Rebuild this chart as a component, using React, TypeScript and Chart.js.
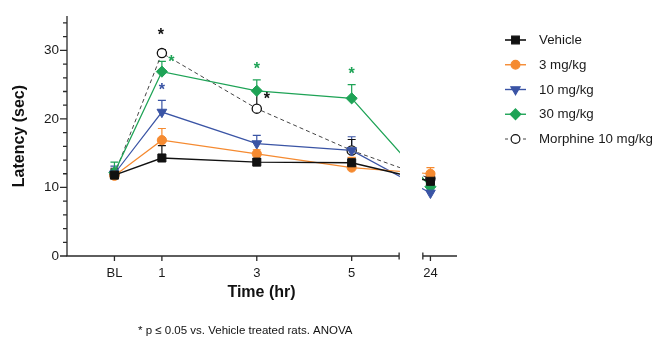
import React, { useEffect, useRef } from 'react';
import { Chart, registerables } from 'chart.js';

Chart.register(...registerables);

const FONT = '"Liberation Sans", Arial, Helvetica, sans-serif';

// ---- categories / tick labels ----
const timeLabels = ['BL', '1', '3', '5', '24'];
const timeHours = [0, 1, 3, 5, 24];
const yTickValues = [0, 2, 4, 6, 8, 10, 12, 14, 16, 18, 20, 22, 24, 26, 28, 30, 32, 34];
const yMajorLabels = [0, 10, 20, 30];

// ---- series ----
const seriesNames = ['Vehicle', '3 mg/kg', '10 mg/kg', '30 mg/kg', 'Morphine 10 mg/kg'];

const vehicleMean = [11.8, 14.3, 13.7, 13.6, 10.9];
const vehicleSem = [0.8, 1.8, 0.5, 0.7, 0.6];
const mg3Mean = [11.7, 16.9, 14.9, 12.9, 12.0];
const mg3Sem = [0.6, 1.7, 0.6, 1.5, 0.9];
const mg10Mean = [12.0, 21.0, 16.4, 15.4, 9.2];
const mg10Sem = [1.1, 1.7, 1.2, 2.0, 0.4];
const mg30Mean = [12.2, 26.9, 24.1, 23.0, 10.1];
const mg30Sem = [1.5, 1.5, 1.6, 2.0, 0.5];
const morphineMean = [11.9, 29.6, 21.5, 15.4, 11.3];
const morphineSem = [0.9, 0.5, 2.5, 1.6, 0.6];

// significance (* p <= 0.05): series index, time index
const sigSeries = [4, 3, 2, 3, 4, 3];
const sigTimes = [1, 1, 1, 2, 2, 3];

const footnote = '* p \u2264 0.05 vs. Vehicle treated rats. ANOVA';

// ---- axis break mapping (hours -> axis units) ----
const SEG1_MIN = -1;
const SEG1_MAX = 6;
const BREAK_GAP = 0.5;
const SEG2_START = 23;
const SEG2_END = 27.5;
const SEG2_SCALE = 0.16;
const axisPos = (h: number) =>
  h <= SEG1_MAX ? h : SEG1_MAX + BREAK_GAP + (h - SEG2_START) * SEG2_SCALE;

// ---- styles ----
const allMeans = [vehicleMean, mg3Mean, mg10Mean, mg30Mean, morphineMean];
const allSems = [vehicleSem, mg3Sem, mg10Sem, mg30Sem, morphineSem];
const styles = [
  { line: '#111111', marker: 'rect', radius: 5.7, rotation: 0, fill: '#111111', border: '#111111', dash: [] as number[], width: 1.4, err: '#111111' },
  { line: '#F58A30', marker: 'circle', radius: 4.6, rotation: 0, fill: '#F58A30', border: '#F58A30', dash: [] as number[], width: 1.2, err: '#F58A30' },
  { line: '#3A54A5', marker: 'triangle', radius: 5.6, rotation: 180, fill: '#3A54A5', border: '#3A54A5', dash: [] as number[], width: 1.2, err: '#3A54A5' },
  { line: '#1EA356', marker: 'rectRot', radius: 5.6, rotation: 0, fill: '#1EA356', border: '#1EA356', dash: [] as number[], width: 1.2, err: '#1EA356' },
  { line: '#444444', marker: 'circle', radius: 4.6, rotation: 0, fill: '#ffffff', border: '#111111', dash: [4, 3], width: 1.0, err: '#111111' },
];
const STAR_OFFSETS = [[-1, -16], [9.5, -8], [0, -20], [0, -20], [10, -8], [0, -22]];
const STAR_COLORS = ['#111111', '#1EA356', '#3A54A5', '#1EA356', '#111111', '#1EA356'];

function drawMarker(ctx: CanvasRenderingContext2D, kind: string, x: number, y: number, r: number, rot: number, fill: string, border: string) {
  ctx.save();
  ctx.fillStyle = fill;
  ctx.strokeStyle = border;
  ctx.lineWidth = 1.2;
  ctx.beginPath();
  if (kind === 'rect') {
    const s = Math.SQRT1_2 * r;
    ctx.rect(x - s, y - s, 2 * s, 2 * s);
  } else if (kind === 'circle') {
    ctx.arc(x, y, r, 0, Math.PI * 2);
  } else if (kind === 'triangle') {
    let a = (rot * Math.PI) / 180;
    ctx.moveTo(x + Math.sin(a) * r, y - Math.cos(a) * r);
    a += (2 * Math.PI) / 3;
    ctx.lineTo(x + Math.sin(a) * r, y - Math.cos(a) * r);
    a += (2 * Math.PI) / 3;
    ctx.lineTo(x + Math.sin(a) * r, y - Math.cos(a) * r);
    ctx.closePath();
  } else if (kind === 'rectRot') {
    ctx.moveTo(x, y - r);
    ctx.lineTo(x + r, y);
    ctx.lineTo(x, y + r);
    ctx.lineTo(x - r, y);
    ctx.closePath();
  }
  ctx.fill();
  ctx.stroke();
  ctx.restore();
}

const customPlugin = {
  id: 'customDecor',
  beforeDatasetsDraw(chart: any) {
    const ctx: CanvasRenderingContext2D = chart.ctx;
    const xs = chart.scales.x;
    const ys = chart.scales.y;
    ctx.save();
    ctx.lineWidth = 1.2;
    allMeans.forEach((means, si) => {
      ctx.strokeStyle = styles[si].err;
      means.forEach((m, i) => {
        const px = xs.getPixelForValue(axisPos(timeHours[i]));
        const y0 = ys.getPixelForValue(m);
        const y1 = ys.getPixelForValue(m + allSems[si][i]);
        ctx.beginPath();
        ctx.moveTo(px, y0);
        ctx.lineTo(px, y1);
        ctx.moveTo(px - 4, y1);
        ctx.lineTo(px + 4, y1);
        ctx.stroke();
      });
    });
    ctx.restore();
  },
  afterDatasetsDraw(chart: any) {
    const ctx: CanvasRenderingContext2D = chart.ctx;
    const xs = chart.scales.x;
    const a = chart.chartArea;
    const x0 = xs.getPixelForValue(SEG1_MAX) + 0.8;
    const x1 = xs.getPixelForValue(SEG1_MAX + BREAK_GAP) - 0.8;
    ctx.save();
    ctx.fillStyle = '#ffffff';
    ctx.fillRect(x0, a.top - 5, x1 - x0, a.bottom - a.top + 4);
    ctx.restore();
  },
  afterDraw(chart: any) {
    const ctx: CanvasRenderingContext2D = chart.ctx;
    const xs = chart.scales.x;
    const ys = chart.scales.y;
    const a = chart.chartArea;
    const axisY = ys.getPixelForValue(0);
    const axisX = a.left;
    ctx.save();
    ctx.strokeStyle = '#2a2a2a';
    ctx.lineWidth = 1.3;
    // y axis
    ctx.beginPath();
    ctx.moveTo(axisX, axisY);
    ctx.lineTo(axisX, ys.getPixelForValue(35));
    yTickValues.forEach((v) => {
      const py = ys.getPixelForValue(v);
      const len = yMajorLabels.includes(v) ? 7 : 4;
      ctx.moveTo(axisX - len, py);
      ctx.lineTo(axisX, py);
    });
    ctx.stroke();
    // x axis segments
    const s1a = xs.getPixelForValue(SEG1_MIN);
    const s1b = xs.getPixelForValue(SEG1_MAX);
    const s2a = xs.getPixelForValue(SEG1_MAX + BREAK_GAP);
    const s2b = xs.getPixelForValue(axisPos(SEG2_END));
    ctx.beginPath();
    ctx.moveTo(s1a - 0.6, axisY);
    ctx.lineTo(s1b, axisY);
    ctx.moveTo(s2a, axisY);
    ctx.lineTo(s2b, axisY);
    ctx.moveTo(s1b, axisY - 3.5);
    ctx.lineTo(s1b, axisY + 3.5);
    ctx.moveTo(s2a, axisY - 3.5);
    ctx.lineTo(s2a, axisY + 3.5);
    timeHours.forEach((h) => {
      const px = xs.getPixelForValue(axisPos(h));
      ctx.moveTo(px, axisY);
      ctx.lineTo(px, axisY + 5);
    });
    ctx.stroke();
    ctx.restore();

    // significance stars
    ctx.save();
    ctx.font = 'bold 16px ' + FONT;
    ctx.textAlign = 'center';
    ctx.textBaseline = 'alphabetic';
    sigSeries.forEach((si, k) => {
      const ti = sigTimes[k];
      const px = xs.getPixelForValue(axisPos(timeHours[ti]));
      const py = ys.getPixelForValue(allMeans[si][ti]);
      ctx.fillStyle = STAR_COLORS[k];
      ctx.fillText('*', px + STAR_OFFSETS[k][0], py + STAR_OFFSETS[k][1] + 3);
    });
    ctx.restore();

    // legend
    ctx.save();
    seriesNames.forEach((name, i) => {
      const st = styles[i];
      const ry = 40 + i * 24.75;
      ctx.strokeStyle = st.line;
      ctx.lineWidth = st.width + 0.2;
      ctx.setLineDash(i === 4 ? [3, 3] : []);
      ctx.beginPath();
      ctx.moveTo(505, ry);
      ctx.lineTo(526, ry);
      ctx.stroke();
      ctx.setLineDash([]);
      drawMarker(ctx, st.marker, 515.5, ry, st.radius * 0.95, st.rotation, st.fill, st.border);
      ctx.fillStyle = '#1a1a1a';
      ctx.font = '13.3px ' + FONT;
      ctx.textAlign = 'left';
      ctx.textBaseline = 'middle';
      ctx.fillText(name, 539, ry + 0.5);
    });
    ctx.restore();

    // titles
    ctx.save();
    ctx.fillStyle = '#111111';
    ctx.font = 'bold 16px ' + FONT;
    ctx.textAlign = 'center';
    ctx.textBaseline = 'middle';
    ctx.fillText('Time (hr)', 261.5, 293);
    ctx.translate(20, (a.top + a.bottom) / 2);
    ctx.rotate(-Math.PI / 2);
    ctx.fillText('Latency (sec)', 0, 0);
    ctx.restore();

    ctx.save();
    ctx.fillStyle = '#111111';
    ctx.font = '11.5px ' + FONT;
    ctx.textAlign = 'left';
    ctx.textBaseline = 'middle';
    ctx.fillText(footnote, 138, 331);
    ctx.restore();
  },
};

export default function App() {
  const canvasRef = useRef<HTMLCanvasElement | null>(null);

  useEffect(() => {
    if (!canvasRef.current) return;
    Chart.defaults.font.family = FONT;
    const datasets = allMeans.map((means, si) => {
      const st = styles[si];
      return {
        label: seriesNames[si],
        data: means.map((m, i) => ({ x: axisPos(timeHours[i]), y: m })),
        borderColor: st.line,
        borderWidth: st.width,
        borderDash: st.dash,
        backgroundColor: st.fill,
        pointStyle: st.marker,
        pointRadius: st.radius,
        pointRotation: st.rotation,
        pointBackgroundColor: st.fill,
        pointBorderColor: st.border,
        pointBorderWidth: si === 4 ? 1.3 : 1,
        pointHoverRadius: st.radius,
        tension: 0,
        fill: false,
        clip: 8,
      };
    });

    const chart = new Chart(canvasRef.current, {
      type: 'line',
      data: { datasets: datasets as any },
      options: {
        animation: false,
        responsive: false,
        events: [],
        layout: { padding: { left: 0, right: 200, top: 11, bottom: 0 } },
        plugins: { legend: { display: false }, tooltip: { enabled: false } },
        scales: {
          x: {
            type: 'linear',
            min: SEG1_MIN,
            max: axisPos(SEG2_END),
            border: { display: false },
            grid: { display: false, drawTicks: false },
            afterBuildTicks: (scale: any) => {
              scale.ticks = timeHours.map((h) => ({ value: axisPos(h) }));
            },
            afterFit: (scale: any) => {
              scale.height = 82;
            },
            ticks: {
              autoSkip: false,
              maxRotation: 0,
              padding: 10,
              color: '#1a1a1a',
              font: { size: 13, family: FONT },
              callback: (_v: any, i: number) => timeLabels[i],
            },
          },
          y: {
            type: 'linear',
            min: 0,
            max: 35,
            border: { display: false },
            grid: { display: false, drawTicks: false },
            afterBuildTicks: (scale: any) => {
              scale.ticks = yTickValues.map((v) => ({ value: v }));
            },
            afterFit: (scale: any) => {
              scale.width = 67;
            },
            ticks: {
              autoSkip: false,
              padding: 8,
              color: '#1a1a1a',
              font: { size: 13.5, family: FONT },
              callback: (v: any) => (yMajorLabels.includes(Number(v)) ? String(v) : ''),
            },
          },
        },
      },
      plugins: [customPlugin as any],
    });
    return () => chart.destroy();
  }, []);

  return (
    <div style={{ position: 'fixed', left: 0, top: 0, width: 657, height: 338, background: '#ffffff' }}>
      <canvas ref={canvasRef} width={657} height={338} style={{ display: 'block', width: 657, height: 338 }} />
    </div>
  );
}
